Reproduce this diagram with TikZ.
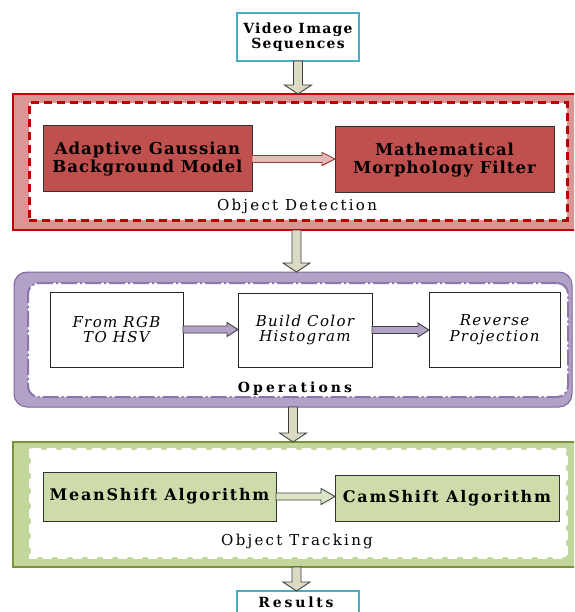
\documentclass[tikz,border=0pt]{standalone}
\usepackage{fontspec}
\setmainfont{DejaVu Serif}
\usetikzlibrary{calc}
\definecolor{cyanb}{HTML}{4BACC6}
\definecolor{redb}{HTML}{C00000}
\definecolor{redfill}{HTML}{D99694}
\definecolor{redbox}{HTML}{C0504D}
\definecolor{redarr}{HTML}{E6B9B8}
\definecolor{redarrb}{HTML}{9E3B39}
\definecolor{purfill}{HTML}{B3A2C7}
\definecolor{purb}{HTML}{8064A2}
\definecolor{purdash}{HTML}{8C76AC}
\definecolor{grfill}{HTML}{C3D69B}
\definecolor{grb}{HTML}{77933C}
\definecolor{grbox}{HTML}{CEDCAC}
\definecolor{grarr}{HTML}{DCE6C6}
\definecolor{varr}{HTML}{DADBC2}
\definecolor{arrb}{HTML}{404040}
\newcommand\vblock[6][]{%
  \path[#1] let \p1=(#2.south), \p2=(#3.north) in
    (\x1-#4,\y1) -- (\x1-#4,\y2+#6) -- (\x1-#5,\y2+#6) -- (\x1,\y2)
    -- (\x1+#5,\y2+#6) -- (\x1+#4,\y2+#6) -- (\x1+#4,\y1) -- cycle;}
\newcommand\hblock[6][]{%
  \path[#1] let \p1=(#2.east), \p2=(#3.west) in
    (\x1,\y1+#4) -- (\x2-#6,\y1+#4) -- (\x2-#6,\y1+#5) -- (\x2,\y1)
    -- (\x2-#6,\y1-#5) -- (\x2-#6,\y1-#4) -- (\x1,\y1-#4) -- cycle;}
\begin{document}
\begin{tikzpicture}[x=1pt,y=-1pt,
  every node/.style={inner sep=0pt,outer sep=0pt,align=center},
  boldtxt/.style={font={\fontsize{16.5}{18.5}\selectfont\bfseries\addfontfeature{LetterSpace=6}}},
  itxt/.style={font={\fontsize{15}{15.5}\selectfont\itshape\addfontfeature{LetterSpace=9}}},
  labtxt/.style={font={\fontsize{15}{18}\selectfont\addfontfeature{LetterSpace=15}}},
  endbox/.style={draw=cyanb,line width=2pt,fill=white,minimum width=122pt,
    font={\fontsize{14}{15.5}\selectfont\bfseries\addfontfeature{LetterSpace=9}}},
  redbx/.style={draw=black!80,line width=1pt,fill=redbox,boldtxt},
  opbx/.style={draw=black!85,line width=1pt,fill=white,itxt},
  grbx/.style={draw=black!80,line width=1pt,fill=grbox,
    font={\fontsize{16}{18}\selectfont\bfseries\addfontfeature{LetterSpace=11}}},
  varrow/.style={fill=varr,draw=arrb,line width=0.9pt,line join=miter},
]
\useasboundingbox (0,0) rectangle (574,612);
\clip (0,0) rectangle (574,612);
\fill[white] (0,0) rectangle (574,612);

% ---------- containers ----------
\node[draw=redb,line width=1.5pt,fill=redfill,minimum width=567pt,minimum height=136pt]
  (redout) at (296.5,162) {};
\node[draw=redb,line width=3pt,dash pattern=on 8pt off 5pt,fill=white,
  minimum width=538pt,minimum height=117pt] (redin) at (298,161.5) {};

\node[draw=purb,line width=1pt,fill=purfill,rounded corners=13pt,
  minimum width=558pt,minimum height=135pt] (purout) at (293,339.5) {};
\node[draw=purdash,line width=2pt,dash pattern=on 16pt off 3pt on 2pt off 3pt,
  fill=white,rounded corners=11pt,minimum width=540pt,minimum height=114pt]
  (purin) at (298,340) {};

\node[draw=grb,line width=1.5pt,fill=grfill,minimum width=567pt,minimum height=125pt]
  (grout) at (296.5,504.5) {};
\node[fill=white,minimum width=535pt,minimum height=107pt] (grin) at (298.5,503.5) {};
\draw[white,line width=3.5pt,dash pattern=on 7pt off 8pt,line cap=round]
  (grin.north west) rectangle (grin.south east);

% ---------- end boxes ----------
\node[endbox,minimum height=48pt] (video) at (298,37) {Video Image\\Sequences};
\node[endbox,minimum height=34pt] (results) at (298,608) {};
\node[font={\fontsize{14}{15}\selectfont\bfseries\addfontfeature{LetterSpace=20}},anchor=base]
  (restxt) at (296,607) {Results};

% ---------- detection ----------
\node[redbx,minimum width=209pt,minimum height=66pt] (adapt) at (147.5,159)
  {Adaptive Gaussian\\Background Model};
\node[redbx,minimum width=219pt,minimum height=66pt] (math) at (444.5,160)
  {Mathematical\\Morphology Filter};
\node[labtxt,anchor=base] (lbldet) at (297,211) {Object Detection};

% ---------- operations ----------
\node[opbx,minimum width=133pt,minimum height=75pt] (rgb) at (116.5,329.5)
  {From RGB\\TO HSV};
\node[opbx,minimum width=134pt,minimum height=74pt] (build) at (305,330)
  {Build Color\\Histogram};
\node[opbx,minimum width=131pt,minimum height=75pt] (rev) at (494.5,329.5)
  {Reverse\\Projection};
\node[font={\fontsize{14}{16}\selectfont\bfseries\addfontfeature{LetterSpace=22}},anchor=base]
  (lblops) at (295,392) {Operations};

% ---------- tracking ----------
\node[grbx,minimum width=233pt,minimum height=49pt] (mean) at (159.5,496.5)
  {MeanShift Algorithm};
\node[grbx,minimum width=224pt,minimum height=46pt] (cam) at (447,498)
  {CamShift Algorithm};
\node[labtxt,anchor=base] (lbltrk) at (297,545) {Object Tracking};

% ---------- horizontal arrows ----------
\hblock[fill=redarr,draw=redarrb,line width=0.9pt]{adapt}{math}{3.5pt}{6.5pt}{13pt}
\hblock[fill=purfill,draw=arrb,line width=0.9pt]{rgb}{build}{3.5pt}{7pt}{11pt}
\hblock[fill=purfill,draw=arrb,line width=0.9pt]{build}{rev}{3.5pt}{7pt}{11pt}
\hblock[fill=grarr,draw=arrb,line width=0.9pt]{mean}{cam}{3.5pt}{8pt}{14pt}

% ---------- vertical arrows ----------
\vblock[varrow]{video}{redout}{4.5pt}{13.5pt}{9pt}
\vblock[varrow]{redout}{purout}{4.5pt}{13.5pt}{9pt}
\vblock[varrow]{purout}{grout}{4.5pt}{13.5pt}{9pt}
\vblock[varrow]{grout}{results}{4.5pt}{13.5pt}{9pt}
\end{tikzpicture}
\end{document}
